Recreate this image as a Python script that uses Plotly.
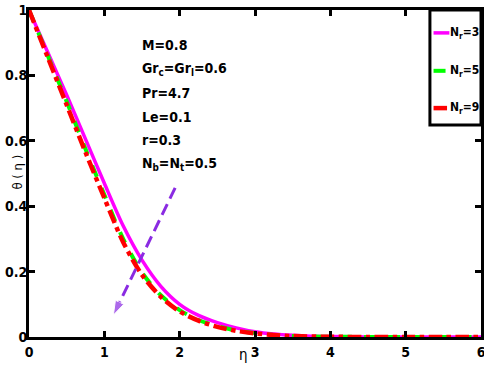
import plotly.graph_objects as go

eta = [0, 0.25, 0.5, 0.75, 1.0, 1.25, 1.5, 1.75, 2.0, 2.25, 2.5, 2.75, 3.0,
       3.25, 3.5, 3.75, 4.0, 4.5, 5.0, 5.5, 6.0]
theta_nr3 = [1.0, 0.87, 0.74, 0.605, 0.47, 0.34, 0.235, 0.155, 0.10, 0.066, 0.044, 0.028, 0.016,
             0.009, 0.005, 0.0025, 0.0012, 0.0003, 0.0, 0.0, 0.0]
theta_nr5 = [1.0, 0.86, 0.72, 0.575, 0.435, 0.30, 0.197, 0.128, 0.082, 0.052, 0.033, 0.02, 0.012,
             0.0065, 0.0033, 0.0017, 0.0008, 0.0002, 0.0, 0.0, 0.0]
theta_nr9 = [1.0, 0.855, 0.71, 0.565, 0.425, 0.29, 0.19, 0.123, 0.078, 0.05, 0.031, 0.019, 0.011,
             0.006, 0.003, 0.0015, 0.0007, 0.0001, 0.0, 0.0, 0.0]
series_names = ["N<sub>r</sub>=3", "N<sub>r</sub>=5", "N<sub>r</sub>=9"]
series_colors = ["#FF00FF", "#00FF00", "#FF0000"]
series_dash = ["solid", "dash", "dashdot"]
series_width = [3.5, 4, 4.5]
arrow_eta = [1.94, 1.12]
arrow_theta = [0.456, 0.067]
param_lines = ["M=0.8", "Gr<sub>c</sub>=Gr<sub>l</sub>=0.6", "Pr=4.7", "Le=0.1", "r=0.3",
               "N<sub>b</sub>=N<sub>t</sub>=0.5"]
x_ticks = [0, 1, 2, 3, 4, 5, 6]
y_ticks = [0, 0.2, 0.4, 0.6, 0.8, 1]
y_ticklabels = ["0", "0.2", "0.4", "0.6", "0.8", "1"]

FONT = "DejaVu Sans Condensed, Liberation Sans, Arial, sans-serif"

fig = go.Figure()
for name, ys, c, d, w in zip(series_names, [theta_nr3, theta_nr5, theta_nr9],
                             series_colors, series_dash, series_width):
    fig.add_trace(go.Scatter(x=eta, y=ys, mode="lines", name=name, showlegend=False,
                             line=dict(color=c, width=w, dash=d, shape="spline", smoothing=0.8)))
fig.add_trace(go.Scatter(x=arrow_eta, y=arrow_theta, mode="lines+markers", showlegend=False,
                         line=dict(color="#8A2BE2", width=3, dash="12px,6px"),
                         marker=dict(symbol=["circle", "arrow"], size=[0, 15],
                                     angleref="previous", color="#8A2BE2")))

# parameter text block
for i, t in enumerate(param_lines):
    fig.add_annotation(x=1.47, y=0.893 - i * 0.073, xref="x", yref="y", xanchor="left",
                       yanchor="middle", text="<b>" + t + "</b>", showarrow=False, align="left",
                       font=dict(family=FONT, size=14, color="black"))

# manual legend box (paper coords)
lx0, lx1, ly0, ly1 = 0.887, 1.0, 0.648, 1.0
fig.add_shape(type="rect", xref="paper", yref="paper", x0=lx0, x1=lx1, y0=ly0, y1=ly1,
              line=dict(color="black", width=3), fillcolor="white", layer="above")
legend_y = [0.93, 0.814, 0.70]
for name, c, d, w, yy in zip(series_names, series_colors, series_dash, series_width, legend_y):
    fig.add_shape(type="line", xref="paper", yref="paper", x0=0.895, x1=0.930, y0=yy, y1=yy,
                  line=dict(color=c, width=w, dash=d), layer="above")
    fig.add_annotation(x=0.930, y=yy, xref="paper", yref="paper", xanchor="left", yanchor="middle",
                       text="<b>" + name + "</b>", showarrow=False, borderpad=0,
                       font=dict(family=FONT, size=12, color="black"))

fig.add_annotation(x=0.475, y=0, xref="paper", yref="paper", text="η", showarrow=False,
                   yanchor="top", yshift=-7, font=dict(family=FONT, size=15, color="black"))
fig.add_annotation(x=-0.046, y=0.505, xref="paper", yref="paper", text="θ ( η )", showarrow=False,
                   textangle=-90, font=dict(family=FONT, size=13, color="black"))

axis_common = dict(showline=True, linecolor="black", linewidth=3, mirror="ticks",
                   ticks="inside", ticklen=6, tickwidth=3, tickcolor="black",
                   showgrid=False, zeroline=False, automargin=False,
                   ticklabeloverflow="allow",
                   tickfont=dict(family=FONT, size=14, color="black"))
fig.update_xaxes(range=[0, 6], tickvals=x_ticks,
                 ticktext=["<b>%d</b>" % v for v in x_ticks], ticklabelstandoff=0, **axis_common)
fig.update_yaxes(range=[0, 1], tickvals=y_ticks,
                 ticktext=["<b>" + s + "</b>" for s in y_ticklabels], ticklabelstandoff=-4, **axis_common)

fig.update_layout(
    width=484, height=374,
    margin=dict(l=29, r=3, t=10, b=37),
    plot_bgcolor="white", paper_bgcolor="white",
    showlegend=False,
)
fig.write_html("out.html", config={"displayModeBar": False},
               post_script="document.body.style.margin='0';")
